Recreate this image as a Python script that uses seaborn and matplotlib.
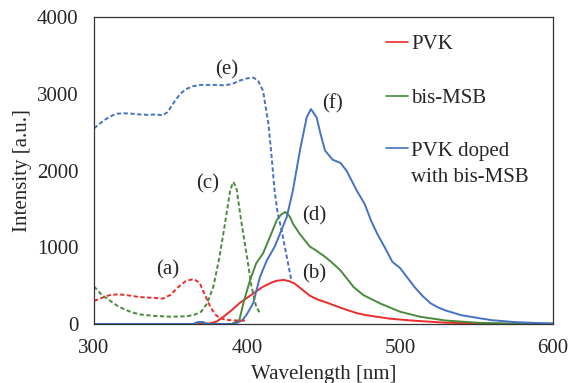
import numpy as np
import pandas as pd
import matplotlib
matplotlib.use("Agg")
import matplotlib.pyplot as plt
import seaborn as sns
from matplotlib.lines import Line2D

# ---- data ----
pvk_ex_x = [300, 305, 310, 315, 320, 325, 330, 335, 340, 345, 350, 355, 360, 365, 369, 372, 376, 379, 382, 386, 390, 395, 400]
pvk_ex_y = [300, 340, 375, 385, 380, 365, 350, 345, 340, 330, 380, 480, 560, 585, 540, 400, 226, 130, 78, 55, 48, 45, 45]

msb_ex_x = [300, 305, 310, 315, 320, 325, 330, 340, 350, 360, 365, 370, 374, 378, 382, 385.6, 389, 391, 393, 396.5, 400, 403, 406, 408.5]
msb_ex_y = [490, 380, 310, 240, 190, 150, 125, 105, 95, 100, 115, 160, 270, 485, 874, 1308, 1740, 1850, 1783, 1308, 874, 485, 226, 140]

dop_ex_x = [300, 305, 310, 315, 320, 325, 330, 335, 340, 345, 348, 352, 356, 360, 365, 370, 375, 380, 385, 390, 395, 400, 404, 407, 410.5, 412, 414, 416, 418, 420, 422.6, 426, 429]
dop_ex_y = [2550, 2630, 2700, 2740, 2745, 2740, 2730, 2725, 2730, 2720, 2760, 2880, 2990, 3060, 3100, 3115, 3115, 3115, 3110, 3125, 3170, 3200, 3210, 3180, 3040, 2850, 2610, 2200, 1740, 1450, 1220, 874, 571]

pvk_em_x = [300, 372, 376, 380, 385, 390, 395, 400, 405, 410, 415, 419, 424, 428, 431, 436, 441, 446, 452, 458, 465, 472, 478, 493, 509, 530, 552, 575, 600]
pvk_em_y = [0, 0, 10, 30, 100, 180, 270, 340, 410, 480, 530, 562, 575, 555, 528, 450, 370, 320, 280, 235, 185, 140, 115, 70, 43, 17, 6, 2, 0]

msb_em_x = [300, 365, 368, 371, 374, 390, 395, 398, 402, 406, 410.5, 415, 419.4, 422, 425, 428, 430, 434.6, 441, 445, 450, 455, 461, 465, 469.5, 476, 487, 500, 513, 530, 552, 575, 600]
msb_em_y = [0, 0, 25, 25, 0, 0, 50, 300, 570, 790, 920, 1135, 1350, 1420, 1460, 1400, 1308, 1170, 1010, 960, 890, 810, 700, 600, 485, 377, 268, 160, 95, 45, 15, 5, 2]

dop_em_x = [300, 365, 368, 371, 374, 392, 397, 400, 404, 408.5, 413, 418, 421.6, 426, 430, 434.6, 439, 441.8, 445.5, 448, 451, 456, 461, 465, 471.7, 477, 481, 485, 490, 495, 500, 505, 510, 515, 520, 525, 530, 540, 552, 560, 575, 590, 600]
dop_em_y = [0, 0, 25, 25, 0, 0, 50, 130, 270, 614, 830, 1004, 1178, 1394, 1740, 2260, 2692, 2800, 2692, 2480, 2260, 2140, 2100, 2000, 1740, 1560, 1350, 1180, 1000, 810, 730, 600, 470, 360, 270, 215, 175, 115, 75, 50, 25, 12, 8]

series_labels = ["PVK", "bis-MSB", "PVK doped\nwith bis-MSB"]
annotations = [("(a)", 348, 700), ("(b)", 444, 650), ("(c)", 374, 1830),
               ("(d)", 444, 1415), ("(e)", 387, 3310), ("(f)", 456, 2870)]

RED = "#ec2c2a"
GREEN = "#4a8a3c"
BLUE = "#4472c4"
FS = 15

sns.set_style("white")
plt.rcParams["font.family"] = ["Liberation Serif", "DejaVu Serif"]

fig = plt.figure(figsize=(5.7, 3.83), dpi=100)
ax = fig.add_axes([94/570, 1 - 324/383, 459/570, 307/383])

def draw(x, y, color, dashed):
    df = pd.DataFrame({"x": x, "y": y})
    sns.lineplot(data=df, x="x", y="y", ax=ax, color=color, linewidth=1.4,
                 linestyle=(0, (2.2, 1.3)) if dashed else "-", sort=False, estimator=None)

draw(pvk_em_x, pvk_em_y, RED, False)
draw(msb_em_x, msb_em_y, GREEN, False)
draw(dop_em_x, dop_em_y, BLUE, False)
draw(pvk_ex_x, pvk_ex_y, RED, True)
draw(msb_ex_x, msb_ex_y, GREEN, True)
draw(dop_ex_x, dop_ex_y, BLUE, True)

ax.set_xlim(300, 600)
ax.set_ylim(0, 4000)
ax.set_xticks([300, 400, 500, 600])
ax.set_xticks([350, 450, 550], minor=True)
ax.set_yticks([0, 1000, 2000, 3000, 4000])
ax.set_yticks([500, 1500, 2500, 3500], minor=True)
ax.tick_params(axis="both", which="both", direction="in", labelsize=FS, color="#333333")
ax.tick_params(which="major", length=5, width=0.8)
ax.tick_params(axis="y", which="major", pad=11)
ax.tick_params(axis="x", which="major", pad=11)
ax.tick_params(which="minor", length=5, width=0.8)
for s in ax.spines.values():
    s.set_color("#333333")
    s.set_linewidth(0.9)

ax.set_xlabel("Wavelength [nm]", fontsize=FS, labelpad=5)
ax.set_ylabel("Intensity [a.u.]", fontsize=FS, labelpad=4)

for t, x, y in annotations:
    ax.text(x, y, t, fontsize=FS, ha="center", va="center")

handles = [Line2D([], [], color=c, linewidth=1.2) for c in (RED, GREEN, BLUE)]
leg = ax.legend(handles, series_labels, loc="upper left", bbox_to_anchor=(0.637, 0.943),
                frameon=False, fontsize=FS, handlelength=1.05, handletextpad=0.15,
                labelspacing=1.65, borderpad=0, borderaxespad=0)
for t in leg.get_texts():
    t.set_linespacing(1.5)
# align the third handle with the first line of its two-line label
lh = leg.legend_handles[2]
lh.set_ydata(np.asarray(lh.get_ydata()) + 12)

fig.savefig("out.png", dpi=100)
